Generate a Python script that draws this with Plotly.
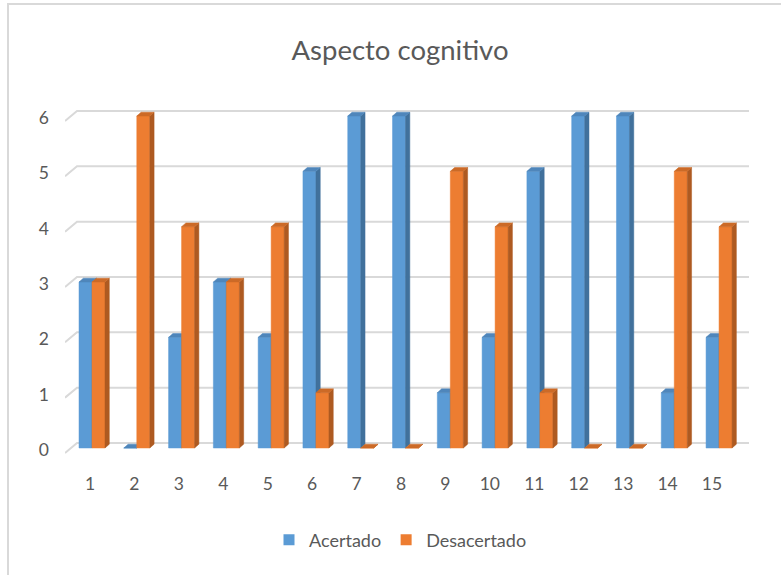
import plotly.graph_objects as go

# ---- data -------------------------------------------------------------
categories = list(range(1, 16))
acertado = [3, 0, 2, 3, 2, 5, 6, 6, 1, 2, 5, 6, 6, 1, 2]
desacertado = [3, 6, 4, 3, 4, 1, 0, 0, 5, 4, 1, 0, 0, 5, 4]
y_ticks = [0, 1, 2, 3, 4, 5, 6]
series_names = ["Acertado", "Desacertado"]
title_text = "Aspecto cognitivo"

# ---- page / plot-area geometry (pixels) ------------------------------
W, H = 781, 575
L, R, T, B = 65, 749, 60, 470          # plot area edges
PX_PER_CAT = 44.79                      # spacing between column groups
PX_PER_UNIT = 55.33                     # one value unit on the front plane
FIRST_GROUP_PX = 92                     # centre of group 1
ZERO_PX = 448                           # front baseline

x_range = [1 - (FIRST_GROUP_PX - L) / PX_PER_CAT,
           1 + (R - FIRST_GROUP_PX) / PX_PER_CAT]
y_range = [-(B - ZERO_PX) / PX_PER_UNIT, (ZERO_PX - T) / PX_PER_UNIT]

# category labels sit on the front floor edge, slightly tighter spacing
LABEL_FIRST_PX, LABEL_STEP_PX = 90, 44.43
x2_range = [1 - (LABEL_FIRST_PX - L) / LABEL_STEP_PX,
            1 + (R - LABEL_FIRST_PX) / LABEL_STEP_PX]

# 3-D column styling, in data units
BAR_W = 13 / PX_PER_CAT
DEPTH_X = 4.3 / PX_PER_CAT
DEPTH_Y = 3.8 / PX_PER_UNIT
# back wall offset used by the gridlines
WALL_X = 12 / PX_PER_CAT
WALL_LOW = 5 / PX_PER_UNIT
WALL_HIGH = 5 / PX_PER_UNIT

TEXT = "#595959"
FONT = "Lato"
GRID = "#d9d9d9"
COLORS = {
    "Acertado": {"front": "#5B9BD5", "side": "#41719C", "top": "#4F86BB"},
    "Desacertado": {"front": "#ED7D31", "side": "#AE5A21", "top": "#CC6A27"},
}

fig = go.Figure()

# ---- gridlines on the back wall with the slanted floor stubs ----------
gx, gy = [], []
for v in y_ticks:
    gx += [x_range[0], x_range[0] + WALL_X, x_range[1], None]
    gy += [v - WALL_LOW, v + WALL_HIGH, v + WALL_HIGH, None]
fig.add_trace(go.Scatter(x=gx, y=gy, mode="lines",
                         line=dict(color=GRID, width=2),
                         showlegend=False, hoverinfo="skip"))


def column_faces(values, left_side):
    """Polygons (front, side, top) for one series of 3-D columns."""
    front, side, top = ([], []), ([], []), ([], [])
    for c, v in zip(categories, values):
        x0 = c - BAR_W if left_side else c
        x1 = x0 + BAR_W
        front[0].extend([x0, x1, x1, x0, x0, None])
        front[1].extend([0, 0, v, v, 0, None])
        side[0].extend([x1, x1 + DEPTH_X, x1 + DEPTH_X, x1, x1, None])
        side[1].extend([0, DEPTH_Y, v + DEPTH_Y, v, 0, None])
        top[0].extend([x0, x0 + DEPTH_X, x1 + DEPTH_X, x1, x0, None])
        top[1].extend([v, v + DEPTH_Y, v + DEPTH_Y, v, v, None])
    return front, side, top


for name, values, left in ((series_names[0], acertado, True),
                           (series_names[1], desacertado, False)):
    faces = column_faces(values, left)
    for (xs, ys), key in zip(faces, ("front", "side", "top")):
        col = COLORS[name][key]
        fig.add_trace(go.Scatter(
            x=xs, y=ys, mode="lines", fill="toself", fillcolor=col,
            line=dict(color=col, width=0.5), showlegend=False,
            hoverinfo="skip"))

# legend entries
for name in series_names:
    fig.add_trace(go.Scatter(
        x=[None], y=[None], mode="markers", name=name,
        marker=dict(symbol="square", size=11, color=COLORS[name]["front"]),
        hoverinfo="skip"))

# invisible carrier for the category label axis
fig.add_trace(go.Scatter(x=categories, y=[0] * len(categories), xaxis="x2",
                         mode="markers", marker=dict(opacity=0),
                         showlegend=False, hoverinfo="skip"))

fig.update_layout(
    width=W, height=H,
    margin=dict(l=L, r=W - R, t=T, b=H - B),
    paper_bgcolor="white", plot_bgcolor="white",
    font=dict(family=FONT, color=TEXT, size=17),
    hovermode=False,
    title=dict(text=title_text, x=(400 - L) / (R - L), xref="paper",
               xanchor="center", y=1 - 50 / H, yanchor="middle",
               font=dict(family=FONT, size=27.5, color=TEXT)),
    xaxis=dict(range=x_range, visible=False, fixedrange=True),
    xaxis2=dict(range=x2_range, overlaying="x", side="bottom",
                tickmode="array", tickvals=categories,
                ticktext=[str(c) for c in categories],
                showgrid=False, zeroline=False, showline=False,
                ticks="", ticklabelstandoff=1,
                tickfont=dict(family=FONT, size=17.5, color=TEXT)),
    yaxis=dict(range=y_range, tickmode="array", tickvals=y_ticks,
               showgrid=False, zeroline=False, showline=False, ticks="",
               ticklabelstandoff=15, ticklabelshift=2,
               tickfont=dict(family=FONT, size=17.5, color=TEXT)),
    legend=dict(orientation="h", x=(400.5 - L) / (R - L), xanchor="center",
                y=-(540 - B) / (B - T), yanchor="middle",
                font=dict(family=FONT, size=18, color=TEXT),
                itemwidth=30, bgcolor="rgba(0,0,0,0)"),
    shapes=[dict(type="rect", xref="paper", yref="paper",
                 x0=(8 - L) / (R - L), x1=(W + 20 - L) / (R - L),
                 y0=(B - (H + 20)) / (B - T), y1=(B - 4) / (B - T),
                 line=dict(color="#d9d9d9", width=2), layer="below")],
)

fig.write_html("out.html")
